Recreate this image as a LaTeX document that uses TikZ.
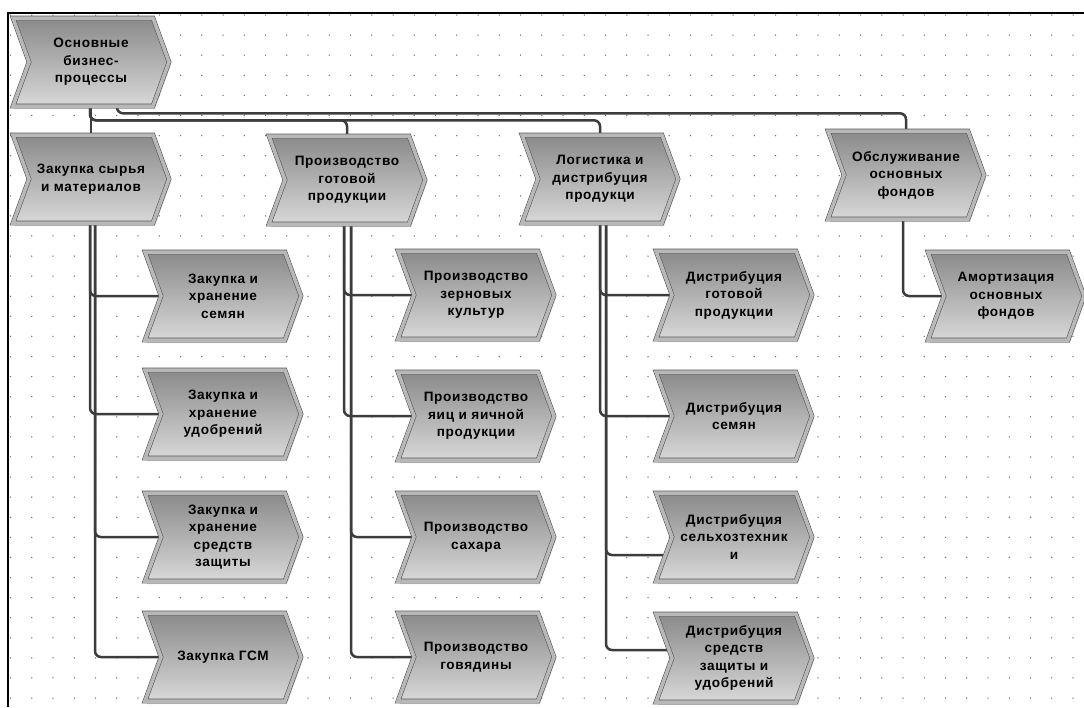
\documentclass[tikz,border=0pt]{standalone}
\usepackage{fontspec}
\newfontfamily\procfont{Liberation Sans}[LetterSpace=5]
\usetikzlibrary{shapes.symbols,shadows,calc}
\pgfdeclarelayer{background}
\pgfsetlayers{background,main}
\definecolor{EpcLine}{HTML}{3C3C3C}
\definecolor{EpcEdge}{HTML}{5A5A5A}
\definecolor{EpcRim}{HTML}{B8B8B8}
\definecolor{EpcTop}{HTML}{8A8A8A}
\definecolor{EpcBot}{HTML}{D8D8D8}
\definecolor{EpcDot}{HTML}{707070}

\tikzset{
  proc/.style={signal, signal from=west, signal to=east, signal pointer angle=140,
    minimum width=156pt, minimum height=88pt, inner sep=1pt,
    draw=EpcEdge, line width=0.6pt, double=EpcRim, double distance=3.5pt,
    top color=EpcTop, bottom color=EpcBot,
    drop shadow={opacity=0.3, shadow xshift=2pt, shadow yshift=-3pt},
    align=center, text=black,
    font=\procfont\bfseries\fontsize{13.6}{17.5}\selectfont},
  link/.style={draw=EpcLine, line width=2.5pt, rounded corners=6pt},
}

\begin{document}
\begin{tikzpicture}[x=1pt,y=1pt]
  \useasboundingbox (0,0) rectangle (1084,-707);
  % dotted grid and frame
  \begin{pgfonlayer}{background}
    \foreach \i in {0,...,50}
      \foreach \j in {0,...,34}
        \fill[EpcDot] (10.5+21.25*\i,-15-20.09*\j) circle (0.75pt);
  \end{pgfonlayer}
  \draw[line width=1.8pt] (8,-707) -- (8,-13) -- (1084,-13);

  % top level
  \node[proc] (root) at (91,-62) {Основные\\бизнес-\\процессы};

  % second level
  \node[proc] (zak)    at (91,-179)  {Закупка сырья\\и материалов};
  \node[proc] (proizv) at (347,-180) {Производство\\готовой\\продукции};
  \node[proc] (logist) at (600,-179) {Логистика и\\дистрибуция\\продукци};
  \node[proc] (obsl)   at (906,-175) {Обслуживание\\основных\\фондов};

  % purchasing
  \node[proc] (zakSem) at (223,-296) {Закупка и\\хранение\\семян};
  \node[proc] (zakUdo) at (223,-414) {Закупка и\\хранение\\удобрений};
  \node[proc] (zakSzr) at (223,-537) {Закупка и\\хранение\\средств\\защиты};
  \node[proc] (zakGsm) at (223,-657) {Закупка ГСМ};

  % production
  \node[proc] (prZern) at (476,-295) {Производство\\зерновых\\культур};
  \node[proc] (prYaic) at (476,-416) {Производство\\яиц и яичной\\продукции};
  \node[proc] (prSakh) at (476,-537) {Производство\\сахара};
  \node[proc] (prGov)  at (476,-657) {Производство\\говядины};

  % distribution
  \node[proc] (dsGot)  at (734,-295) {Дистрибуция\\готовой\\продукции};
  \node[proc] (dsSem)  at (734,-416) {Дистрибуция\\семян};
  \node[proc] (dsSelh) at (734,-537) {Дистрибуция\\сельхозтехник\\и};
  \node[proc] (dsSzr)  at (734,-658) {Дистрибуция\\средств\\защиты и\\удобрений};

  % fixed assets
  \node[proc] (amort) at (1006,-296) {Амортизация\\основных\\фондов};

  \begin{pgfonlayer}{background}
    \draw[link] (root.south) -- (zak.north);
    \draw[link] ([xshift=-1pt]root.south) -- ++(0,-14) -| (proizv.north);
    \draw[link] ([xshift=-1pt]root.south) -- ++(0,-14) -| (logist.north);
    \draw[link] ([xshift=26pt]root.south) -- ++(0,-7) -| (obsl.north);

    \draw[link] ([xshift=-1pt]zak.south) |- (zakSem.west);
    \draw[link] ([xshift=-1pt]zak.south) |- (zakUdo.west);
    \draw[link] ([xshift=4pt]zak.south) |- (zakSzr.west);
    \draw[link] ([xshift=4pt]zak.south) |- (zakGsm.west);

    \draw[link] ([xshift=-3pt]proizv.south) |- (prZern.west);
    \draw[link] ([xshift=-3pt]proizv.south) |- (prYaic.west);
    \draw[link] ([xshift=4pt]proizv.south) |- (prSakh.west);
    \draw[link] ([xshift=4pt]proizv.south) |- (prGov.west);

    \draw[link] (logist.south) |- (dsGot.west);
    \draw[link] (logist.south) |- (dsSem.west);
    \draw[link] ([xshift=6pt]logist.south) |- ([yshift=-18pt]dsSelh.west);
    \draw[link] ([xshift=6pt]logist.south) |- ([yshift=8pt]dsSzr.west);

    \draw[link] ([xshift=-3pt]obsl.south) |- (amort.west);
  \end{pgfonlayer}
\end{tikzpicture}
\end{document}
